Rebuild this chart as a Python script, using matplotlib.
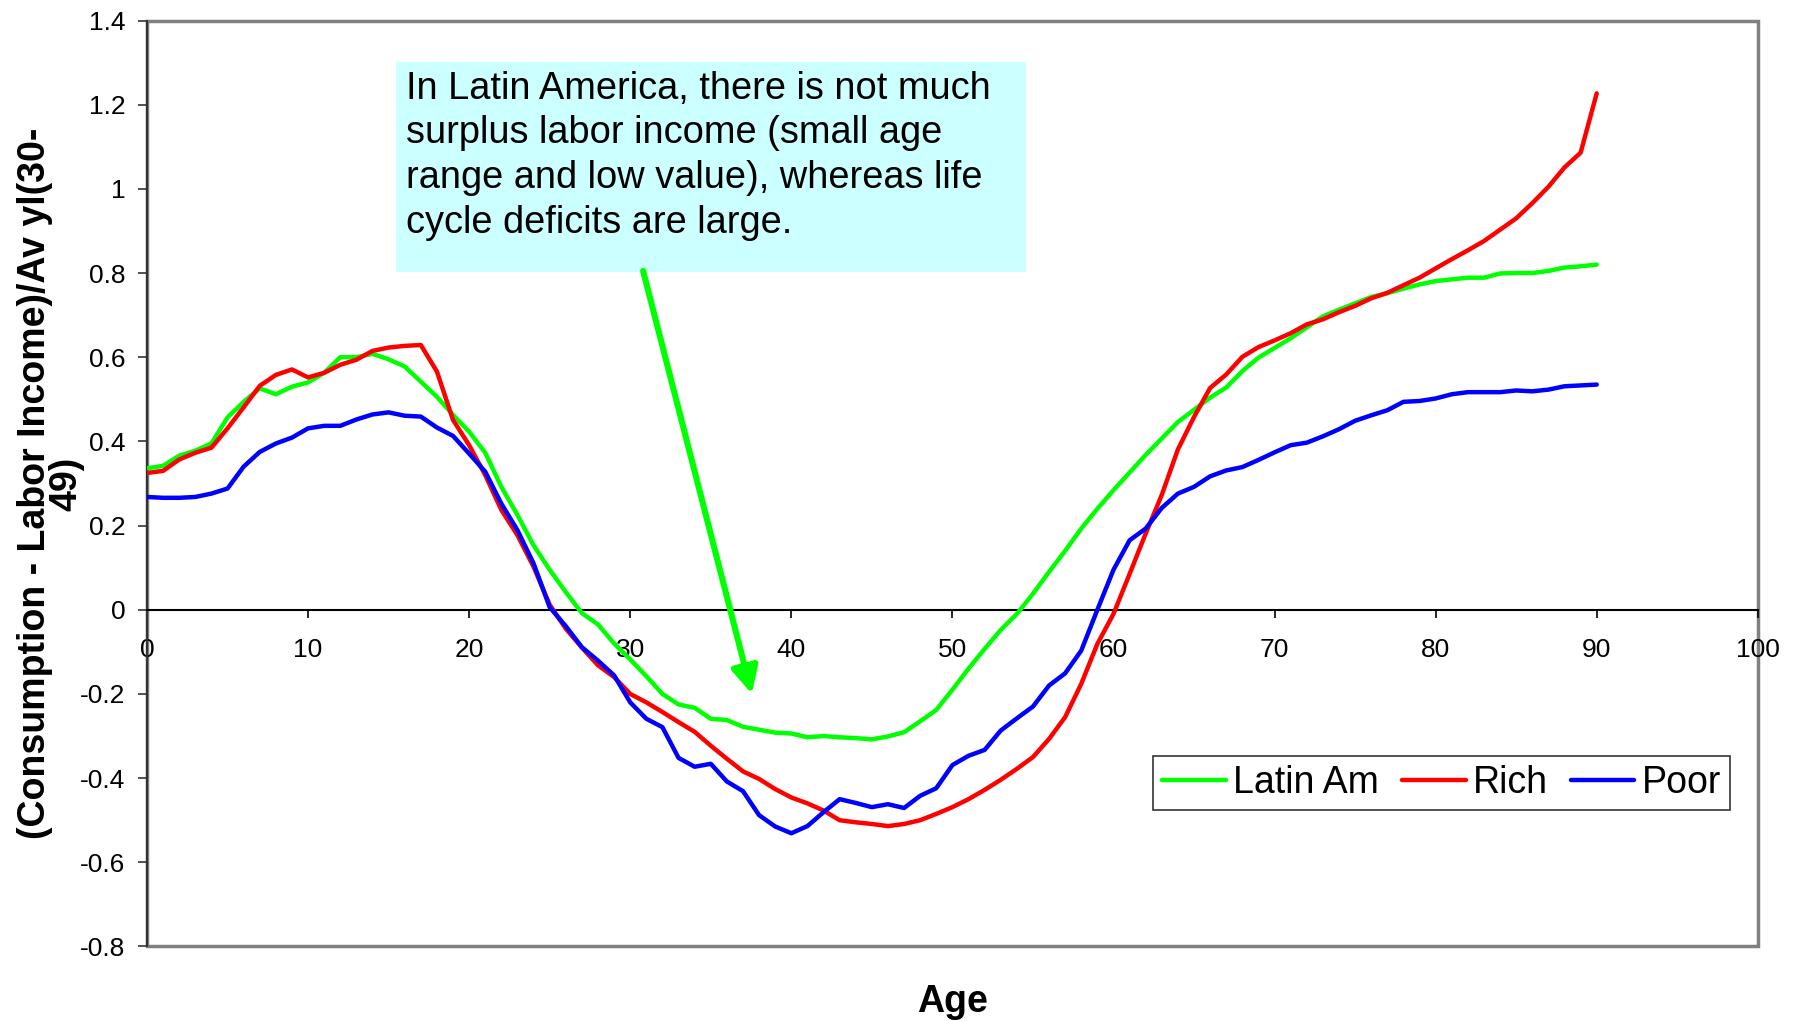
import numpy as np
import matplotlib.pyplot as plt
from matplotlib.patches import Rectangle
from matplotlib.ticker import FuncFormatter, MultipleLocator

plt.rcParams['font.family'] = ['Liberation Sans', 'DejaVu Sans']
plt.rcParams['axes.unicode_minus'] = False

# (consumption - labor income) relative to average labor income of ages 30-49
ages = np.arange(0, 91)

latin_am = [0.336, 0.342, 0.366, 0.378, 0.395, 0.457, 0.494, 0.526, 0.512, 0.530,
            0.540, 0.563, 0.600, 0.600, 0.608, 0.595, 0.578, 0.542, 0.506, 0.463,
            0.423, 0.373, 0.292, 0.225, 0.153, 0.095, 0.042, -0.008, -0.035, -0.080,
            -0.118, -0.158, -0.200, -0.225, -0.233, -0.259, -0.262, -0.278, -0.285, -0.292,
            -0.294, -0.303, -0.300, -0.303, -0.305, -0.308, -0.301, -0.291, -0.265, -0.238,
            -0.190, -0.140, -0.093, -0.048, -0.010, 0.038, 0.090, 0.140, 0.193, 0.240,
            0.284, 0.326, 0.368, 0.407, 0.446, 0.475, 0.504, 0.528, 0.567, 0.599,
            0.622, 0.645, 0.671, 0.697, 0.713, 0.728, 0.743, 0.752, 0.763, 0.773,
            0.781, 0.785, 0.789, 0.789, 0.799, 0.800, 0.800, 0.805, 0.813, 0.816,
            0.820]

rich = [0.325, 0.330, 0.357, 0.373, 0.385, 0.431, 0.481, 0.532, 0.558, 0.571,
        0.552, 0.563, 0.582, 0.594, 0.615, 0.623, 0.627, 0.629, 0.566, 0.451,
        0.391, 0.320, 0.237, 0.177, 0.102, 0.012, -0.045, -0.090, -0.132, -0.160,
        -0.200, -0.220, -0.243, -0.267, -0.290, -0.323, -0.354, -0.384, -0.402, -0.426,
        -0.446, -0.460, -0.477, -0.500, -0.505, -0.509, -0.514, -0.509, -0.500, -0.485,
        -0.469, -0.450, -0.428, -0.404, -0.378, -0.350, -0.307, -0.255, -0.176, -0.081,
        -0.010, 0.085, 0.181, 0.273, 0.381, 0.458, 0.527, 0.559, 0.601, 0.624,
        0.640, 0.657, 0.678, 0.690, 0.707, 0.722, 0.740, 0.753, 0.771, 0.789,
        0.811, 0.833, 0.854, 0.876, 0.903, 0.930, 0.966, 1.005, 1.051, 1.086,
        1.227]

poor = [0.268, 0.266, 0.266, 0.268, 0.276, 0.288, 0.340, 0.375, 0.395, 0.409,
        0.431, 0.437, 0.437, 0.452, 0.464, 0.469, 0.461, 0.459, 0.433, 0.413,
        0.371, 0.328, 0.252, 0.189, 0.110, 0.006, -0.039, -0.089, -0.121, -0.156,
        -0.220, -0.259, -0.279, -0.352, -0.373, -0.366, -0.408, -0.431, -0.488, -0.515,
        -0.531, -0.514, -0.481, -0.450, -0.459, -0.469, -0.462, -0.471, -0.442, -0.424,
        -0.369, -0.347, -0.333, -0.287, -0.258, -0.230, -0.180, -0.151, -0.097, 0.000,
        0.095, 0.165, 0.193, 0.242, 0.276, 0.292, 0.317, 0.331, 0.339, 0.356,
        0.374, 0.391, 0.397, 0.412, 0.429, 0.449, 0.462, 0.474, 0.494, 0.496,
        0.502, 0.512, 0.517, 0.517, 0.517, 0.521, 0.519, 0.523, 0.531, 0.533,
        0.535]

series_names = ['Latin Am', 'Rich', 'Poor']
series_colors = ['#00FF00', '#FF0000', '#0000FF']

note = ("In Latin America, there is not much\n"
        "surplus labor income (small age\n"
        "range and low value), whereas life\n"
        "cycle deficits are large.")
arrow_from = (30.8, 0.805)
arrow_to = (37.55, -0.2)

fig = plt.figure(figsize=(17.99, 10.21), dpi=100)
ax = fig.add_axes([0.0817, 0.073, 0.8954, 0.9069])

for name, vals, col in zip(series_names, [latin_am, rich, poor], series_colors):
    ax.plot(ages, vals, color=col, lw=3.2, label=name, zorder=3,
            solid_capstyle='round', solid_joinstyle='round')

ax.set_xlim(0, 100)
ax.set_ylim(-0.8, 1.4)
ax.xaxis.set_major_locator(MultipleLocator(10))
ax.yaxis.set_major_locator(MultipleLocator(0.2))
ax.yaxis.set_major_formatter(FuncFormatter(lambda v, _: f'{round(v, 1) + 0.0:g}'))

# gray plot-area frame, black axis lines through the origin
ax.patch.set_edgecolor('#808080')
ax.patch.set_linewidth(2.5)
ax.spines['top'].set_visible(False)
ax.spines['right'].set_visible(False)
ax.spines['left'].set_color('#333333')
ax.spines['left'].set_linewidth(1.5)
ax.spines['bottom'].set_position(('data', 0))
ax.spines['bottom'].set_color('black')
ax.spines['bottom'].set_linewidth(1.5)

ax.tick_params(axis='y', direction='out', length=6.5, width=1.2, pad=9,
               labelsize=19, color='#333333')
ax.tick_params(axis='x', direction='out', length=6, width=1.2, pad=14.5,
               labelsize=19)

ax.set_xlabel('Age', fontsize=27, fontweight='bold', va='center')
ax.xaxis.set_label_coords(0.5, -0.0605)
ax.set_ylabel('(Consumption - Labor Income)/Av yl(30-\n49)', fontsize=27,
              fontweight='bold', va='center', ha='center', linespacing=0.85)
ax.yaxis.set_label_coords(-0.0598, 0.5)

leg = ax.legend(loc='lower right', bbox_to_anchor=(0.983, 0.147), ncol=3,
                fontsize=27, frameon=True, fancybox=False, edgecolor='black',
                handlelength=1.7, handletextpad=0.2, columnspacing=0.6,
                borderpad=0.25, borderaxespad=0)
leg.get_frame().set_linewidth(1.2)

ax.add_patch(Rectangle((0.1546, 0.7288), 0.3912, 0.2265, transform=ax.transAxes,
                       facecolor='#CCFFFF', edgecolor='none', zorder=4))
ax.text(0.1606, 0.946, note, transform=ax.transAxes, ha='left', va='top',
        fontsize=27.4, linespacing=1.31, zorder=5)
ax.annotate('', xy=arrow_to, xytext=arrow_from,
            arrowprops=dict(arrowstyle='-|>,head_length=0.8,head_width=0.4',
                            color='#00FF00', lw=4.4, shrinkA=0, shrinkB=0,
                            mutation_scale=20),
            zorder=5)

fig.savefig('out.png', dpi=100)
